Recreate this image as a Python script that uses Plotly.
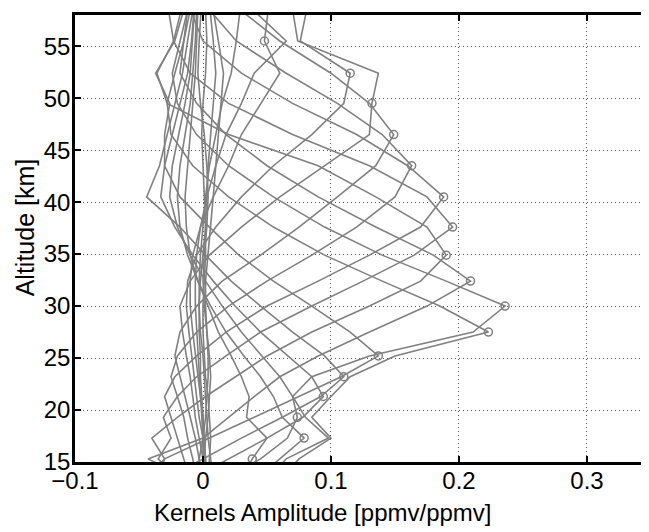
import plotly.graph_objects as go

# altitude grid of the retrieval [km]
altitude = [13.3, 15.3, 17.3, 19.3, 21.3, 23.2, 25.2, 27.5, 30.0, 32.4,
            34.9, 37.6, 40.5, 43.5, 46.5, 49.5, 52.4, 55.5, 58.5, 61.5]

# averaging kernels (rows of A), one per nominal altitude
k_15 = [0.030, 0.0385, 0.050, 0.034, 0.036, 0.030, 0.022, 0.012, 0.004, -0.004,
        -0.010, -0.013, -0.014, -0.012, -0.010, -0.008, -0.006, -0.005, -0.004, -0.003]
k_17 = [0.040, 0.060, 0.079, 0.062, 0.055, 0.045, 0.032, 0.018, 0.006, -0.004,
        -0.012, -0.018, -0.020, -0.018, -0.014, -0.010, -0.008, -0.006, -0.005, -0.004]
k_19 = [0.015, 0.045, 0.066, 0.0737, 0.070, 0.060, 0.046, 0.030, 0.015, 0.002,
        -0.010, -0.020, -0.026, -0.024, -0.019, -0.014, -0.010, -0.008, -0.006, -0.005]
k_21 = [-0.010, 0.020, 0.050, 0.078, 0.094, 0.085, 0.066, 0.045, 0.025, 0.008,
        -0.008, -0.022, -0.033, -0.030, -0.024, -0.018, -0.012, -0.009, -0.007, -0.005]
k_23 = [-0.030, 0.000, 0.030, 0.062, 0.092, 0.110, 0.095, 0.070, 0.045, 0.022,
        0.002, -0.018, -0.044, -0.034, -0.028, -0.022, -0.016, -0.012, -0.008, -0.006]
k_25 = [-0.045, -0.030, 0.005, 0.040, 0.075, 0.108, 0.137, 0.115, 0.085, 0.055,
        0.028, 0.005, -0.018, -0.030, -0.030, -0.026, -0.037, -0.022, -0.015, -0.010]
k_27 = [0.060, 0.075, 0.100, 0.085, 0.100, 0.115, 0.150, 0.223, 0.185, 0.140,
        0.095, 0.055, 0.020, -0.008, -0.025, -0.028, -0.022, -0.015, -0.012, -0.008]
k_30 = [0.050, 0.065, 0.098, 0.080, 0.070, 0.085, 0.130, 0.211, 0.236, 0.190,
        0.140, 0.095, 0.055, 0.020, -0.005, -0.020, -0.024, -0.018, -0.012, -0.008]
k_32 = [-0.010, -0.043, 0.000, 0.020, 0.040, 0.060, 0.090, 0.130, 0.175, 0.209,
        0.180, 0.135, 0.090, 0.050, 0.018, -0.005, -0.018, -0.015, -0.010, -0.007]
k_35 = [-0.035, -0.030, -0.040, -0.020, 0.002, 0.025, 0.050, 0.085, 0.130, 0.170,
        0.190, 0.175, 0.135, 0.090, 0.020, -0.028, -0.036, -0.023, -0.027, -0.025]
k_37 = [-0.020, -0.035, -0.025, -0.031, -0.020, -0.005, 0.018, 0.045, 0.085, 0.125,
        0.165, 0.195, 0.175, 0.130, 0.070, 0.020, -0.010, -0.023, -0.017, -0.013]
k_40 = [-0.010, -0.015, -0.020, -0.025, -0.030, -0.022, -0.005, 0.018, 0.050, 0.090,
        0.130, 0.170, 0.188, 0.160, 0.120, 0.070, 0.030, 0.000, -0.010, -0.008]
k_43 = [-0.005, -0.008, -0.012, -0.015, -0.020, -0.025, -0.020, -0.005, 0.020, 0.050,
        0.085, 0.120, 0.150, 0.163, 0.140, 0.105, 0.065, 0.026, 0.005, -0.004]
k_46 = [0.000, -0.003, -0.006, -0.010, -0.014, -0.018, -0.022, -0.018, -0.005, 0.015,
        0.045, 0.075, 0.105, 0.135, 0.149, 0.130, 0.100, 0.060, 0.029, 0.008]
k_49 = [0.002, 0.000, -0.003, -0.006, -0.008, -0.010, -0.013, -0.016, -0.018, -0.010,
        0.005, 0.030, 0.060, 0.095, 0.130, 0.132, 0.137, 0.074, 0.070, 0.040]
k_52 = [0.003, 0.002, 0.000, -0.003, -0.005, -0.007, -0.009, -0.011, -0.013, -0.012,
        -0.005, 0.010, 0.030, 0.055, 0.085, 0.110, 0.115, 0.076, 0.081, 0.060]
k_55 = [0.002, 0.002, 0.001, 0.000, -0.002, -0.004, -0.006, -0.008, -0.010, -0.010,
        -0.008, -0.002, 0.008, 0.020, 0.030, 0.045, 0.060, 0.048, 0.051, 0.045]
k_58 = [0.001, 0.001, 0.000, -0.001, -0.002, -0.003, -0.004, -0.005, -0.006, -0.006,
        -0.005, -0.002, 0.003, 0.010, 0.018, 0.030, 0.040, 0.065, 0.039, 0.030]
k_61 = [0.000, 0.000, 0.000, 0.000, -0.001, -0.002, -0.002, -0.003, -0.003, -0.003,
        -0.002, 0.000, 0.002, 0.005, 0.010, 0.015, 0.022, 0.026, 0.029, 0.025]
# kernels of levels above the plotted range (almost zero here)
k_hi1 = [-0.004, -0.003, 0.000, 0.002, 0.003, 0.004, 0.004, 0.003, 0.002, 0.002,
         0.004, 0.006, 0.008, 0.010, 0.012, 0.014, 0.016, 0.012, 0.008, 0.004]
k_hi2 = [0.008, 0.006, 0.004, 0.003, 0.002, 0.001, 0.000, -0.002, -0.003, -0.002,
         0.000, 0.002, 0.003, 0.004, 0.006, 0.008, 0.010, 0.008, 0.005, 0.003]
k_hi3 = [0.000, 0.001, 0.002, 0.004, 0.005, 0.006, 0.005, 0.003, 0.001, 0.000,
         0.001, 0.003, 0.004, 0.003, 0.001, -0.002, -0.004, -0.003, -0.001, 0.000]
k_hi4 = [0.004, 0.005, 0.006, 0.005, 0.004, 0.002, 0.001, 0.000, 0.000, 0.001,
         0.002, 0.002, 0.001, 0.000, -0.001, 0.000, 0.002, 0.003, 0.002, 0.001]

# kernels that have their nominal level inside the grid -> (kernel, grid index)
diag_kernels = [(k_15, 1), (k_17, 2), (k_19, 3), (k_21, 4), (k_23, 5), (k_25, 6),
                (k_27, 7), (k_30, 8), (k_32, 9), (k_35, 10), (k_37, 11), (k_40, 12),
                (k_43, 13), (k_46, 14), (k_49, 15), (k_52, 16), (k_55, 17),
                (k_58, 18), (k_61, 19)]
extra_kernels = [k_hi1, k_hi2, k_hi3, k_hi4]

grey = 'rgb(128,128,128)'
fig = go.Figure()
for k in extra_kernels + [kk for kk, _ in diag_kernels]:
    fig.add_trace(go.Scatter(x=k, y=altitude, mode='lines',
                             line=dict(color=grey, width=1.6), showlegend=False))

# circles on the diagonal elements
fig.add_trace(go.Scatter(x=[k[i] for k, i in diag_kernels],
                         y=[altitude[i] for _, i in diag_kernels],
                         mode='markers', showlegend=False,
                         marker=dict(symbol='circle-open', size=8, color=grey,
                                     line=dict(width=1.5, color=grey))))

axis_common = dict(showline=True, linecolor='black', linewidth=2.5,
                   ticks='inside', ticklen=6, tickwidth=1.5, tickcolor='black',
                   showgrid=True, gridcolor='#555555', griddash='1px,3px', gridwidth=1,
                   zeroline=False, tickfont=dict(size=24, color='black'))

# the page body adds 8px around the figure, so the layout is shifted to compensate
fig.update_xaxes(range=[-0.1, 0.3547], tickvals=[-0.1, 0, 0.1, 0.2, 0.3],
                 ticktext=['\u22120.1', '0', '0.1', '0.2', '0.3'], mirror='ticks',
                 ticklabelstandoff=-5, **axis_common)
fig.update_yaxes(range=[15, 58], tickvals=[15, 20, 25, 30, 35, 40, 45, 50, 55],
                 ticklabelstandoff=-3, **axis_common)

fig.add_annotation(text='Kernels Amplitude [ppmv/ppmv]', xref='paper', yref='paper',
                   x=0.426, y=-0.114, xanchor='center', yanchor='middle',
                   showarrow=False, font=dict(size=24, color='black'))
fig.add_annotation(text='Altitude [km]', xref='paper', yref='paper',
                   x=-0.0859, y=0.525, xanchor='center', yanchor='middle',
                   textangle=-90, showarrow=False, font=dict(size=25, color='black'))

fig.update_layout(width=649, height=532, margin=dict(l=67, r=0, t=7, b=78),
                  plot_bgcolor='white', paper_bgcolor='white',
                  font=dict(family='Liberation Sans, Arial, sans-serif', color='black'))

fig.write_html('out.html')
